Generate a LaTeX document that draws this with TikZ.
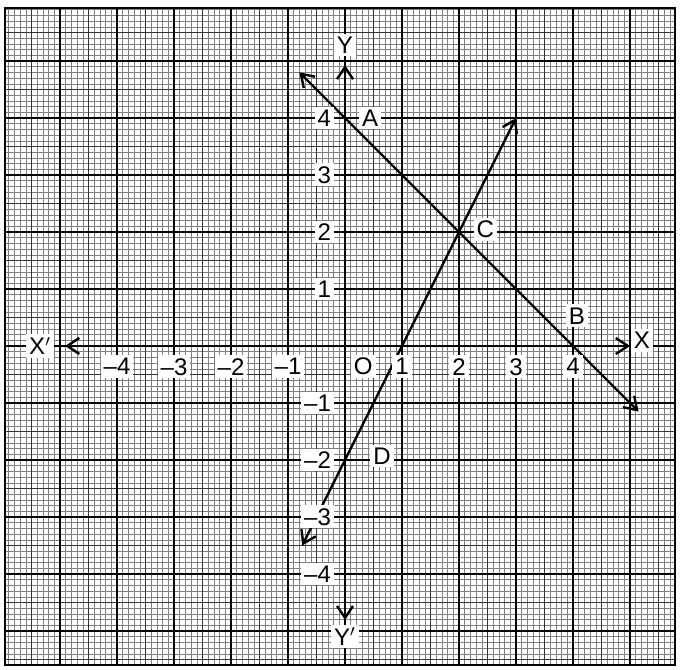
\documentclass[tikz,border=0pt]{standalone}
\usepackage{fontspec}
\setmainfont{Liberation Sans}
\usetikzlibrary{arrows.meta}

\begin{document}
\begin{tikzpicture}[x=1cm, y=1cm, >={Straight Barb[length=6pt,width=8pt]}, thick,
    every node/.style={font=\large},
    lbl/.style={fill=white, inner sep=1.5pt}]
  % 0. 画布大小
  \useasboundingbox (-6.053,-5.684) rectangle (5.912,6.070);
  \fill[white] (-6.053,-5.684) rectangle (5.912,6.070);

  % 1. 坐标纸
  \draw[black!50, line width=0.25pt, step=0.1] (-5.96,-5.6) grid (5.79,5.93);
  \draw[black!80, line width=0.5pt, step=0.5] (-5.96,-5.6) grid (5.79,5.93);
  \draw[black, line width=0.8pt, step=1] (-5.96,-5.6) grid (5.79,5.93);
  \draw[black, line width=0.8pt] (-5.96,-5.6) rectangle (5.79,5.93);

  % 2. 坐标轴
  \coordinate (xl) at (-4.91,0);
  \coordinate (xr) at (5.0,0);
  \coordinate (yt) at (0,4.93);
  \coordinate (yb) at (0,-4.81);
  \draw[<->, line width=1.2pt] (xl) -- (xr);
  \draw[<->, line width=1.2pt] (yb) -- (yt);
  \foreach \i in {-4,...,-1,1,2,3,4} {
    \draw (\i,0.08) -- (\i,-0.08);
    \draw (0.08,\i) -- (-0.08,\i);
  }

  % 3. 两条直线
  \coordinate (p1) at (-0.8,4.8);
  \coordinate (p2) at (5.15,-1.15);
  \coordinate (q1) at (3,4);
  \coordinate (q2) at (-0.75,-3.5);
  \draw[<->, line width=1.2pt] (p1) -- (p2);
  \draw[<->, line width=1.2pt] (q2) -- (q1);

  % 4. 轴标注与刻度数字
  \node[lbl] (Xl) at (-5.35,0) {X$'$};
  \node[lbl] (Xr) at (5.21,0.1) {X};
  \node[lbl] (Yt) at (0,5.28) {Y};
  \node[lbl] (Yb) at (0,-5.1) {Y$'$};
  \node[lbl] (O) at (0.32,-0.36) {O};
  \foreach \i in {-4,...,-1,1,2,3,4} {
    \node[lbl, below] (tx\i) at (\i,-0.15) {\ifnum\i<0 --\the\numexpr-\i\relax\else\i\fi};
    \node[lbl, anchor=east] (ty\i) at (-0.18,\i) {\ifnum\i<0 --\the\numexpr-\i\relax\else\i\fi};
  }

  % 5. 点的标注
  \node[lbl] (A) at (0.44,4.0) {A};
  \node[lbl] (B) at (4.07,0.53) {B};
  \node[lbl] (C) at (2.46,2.05) {C};
  \node[lbl] (D) at (0.65,-1.93) {D};
\end{tikzpicture}
\end{document}
